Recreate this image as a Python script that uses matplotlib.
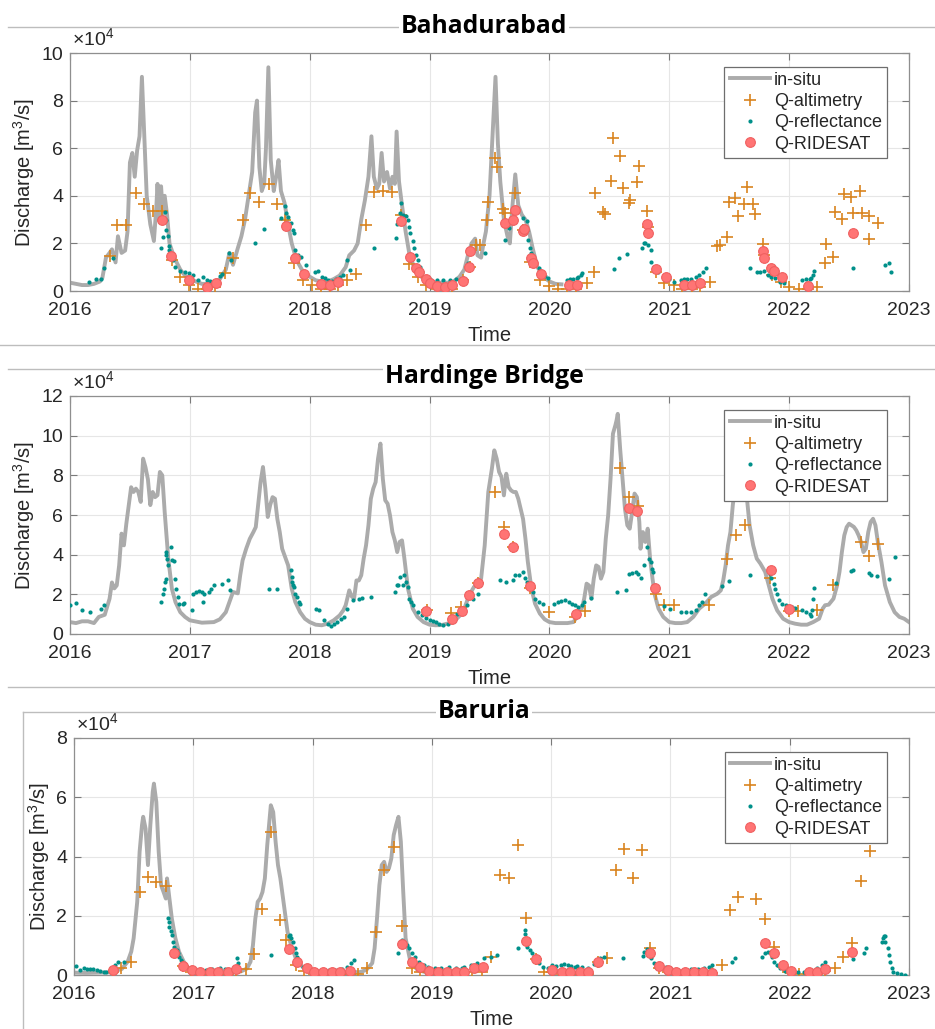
import matplotlib
matplotlib.use("Agg")
import matplotlib.pyplot as plt
from matplotlib.lines import Line2D

plt.rcParams['font.family'] = ['Liberation Sans', 'DejaVu Sans']
plt.rcParams['mathtext.fontset'] = 'custom'
plt.rcParams['mathtext.rm'] = 'Liberation Sans'
plt.rcParams['mathtext.it'] = 'Liberation Sans'

# ---------------- DATA (discharge in units of 1e4 m^3/s, time in decimal years) -------------
years = [2016, 2017, 2018, 2019, 2020, 2021, 2022, 2023]
year_labels = [str(y) for y in years]

# Bahadurabad
bah_insitu_t = [2016.00, 2016.05, 2016.10, 2016.15, 2016.20, 2016.25, 2016.27, 2016.30, 2016.33, 2016.35,
                2016.38, 2016.40, 2016.43, 2016.46, 2016.48, 2016.50, 2016.52, 2016.54, 2016.56, 2016.58,
                2016.60, 2016.62, 2016.64, 2016.67, 2016.70, 2016.72, 2016.73, 2016.745, 2016.76, 2016.775,
                2016.79, 2016.81, 2016.83, 2016.87, 2016.92, 2016.96, 2017.00, 2017.05, 2017.10, 2017.15,
                2017.20, 2017.25, 2017.30, 2017.33, 2017.36, 2017.40, 2017.43, 2017.46, 2017.49, 2017.52,
                2017.545, 2017.56, 2017.58, 2017.60, 2017.62, 2017.635, 2017.655, 2017.675, 2017.70, 2017.72,
                2017.74, 2017.76, 2017.79, 2017.82, 2017.85, 2017.89, 2017.94, 2018.00, 2018.05, 2018.10,
                2018.15, 2018.20, 2018.25, 2018.30, 2018.33, 2018.37, 2018.40, 2018.43, 2018.46, 2018.49,
                2018.515, 2018.535, 2018.56, 2018.58, 2018.60, 2018.62, 2018.645, 2018.67, 2018.69, 2018.71,
                2018.725, 2018.745, 2018.77, 2018.80, 2018.83, 2018.87, 2018.93, 2019.00, 2019.05, 2019.10,
                2019.15, 2019.20, 2019.25, 2019.29, 2019.32, 2019.35, 2019.38, 2019.40, 2019.43, 2019.45,
                2019.47, 2019.50, 2019.52, 2019.55, 2019.57, 2019.59, 2019.62, 2019.65, 2019.67, 2019.69,
                2019.715, 2019.74, 2019.77, 2019.80, 2019.83, 2019.86, 2019.90, 2019.95, 2020.00, 2020.05,
                2020.10]
bah_insitu_q = [0.35, 0.30, 0.25, 0.25, 0.30, 0.40, 0.55, 1.40, 1.60, 1.75,
                1.20, 2.30, 1.60, 1.70, 2.50, 5.40, 5.80, 4.80, 5.90, 6.50,
                9.00, 6.50, 4.00, 2.80, 2.10, 3.50, 4.50, 3.00, 4.40, 3.20,
                4.00, 3.20, 2.00, 1.40, 0.90, 0.65, 0.50, 0.40, 0.30, 0.30,
                0.35, 0.50, 0.90, 1.60, 1.10, 1.80, 2.30, 3.00, 4.00, 5.00,
                7.50, 8.00, 5.20, 4.20, 4.50, 6.00, 9.40, 5.50, 4.20, 4.80,
                5.50, 4.20, 3.70, 2.80, 2.00, 1.30, 0.85, 0.60, 0.45, 0.40,
                0.40, 0.50, 0.65, 1.00, 1.50, 1.70, 2.00, 3.00, 3.80, 4.80,
                6.50, 4.80, 4.30, 4.50, 5.80, 4.60, 5.00, 4.30, 4.80, 4.50,
                6.70, 4.60, 3.60, 2.50, 1.60, 1.00, 0.60, 0.40, 0.35, 0.35,
                0.35, 0.40, 0.60, 0.90, 1.50, 2.00, 2.20, 1.50, 1.40, 2.00,
                2.50, 4.00, 6.00, 9.00, 6.20, 4.60, 3.00, 2.30, 2.00, 3.50,
                4.90, 3.60, 3.20, 3.00, 2.50, 1.80, 1.00, 0.60, 0.40, 0.30,
                0.28]

bah_alt_t = [2016.33, 2016.39, 2016.47, 2016.55, 2016.62, 2016.69, 2016.77, 2016.85, 2016.92, 2016.99,
             2017.07, 2017.14, 2017.21, 2017.29, 2017.36, 2017.44, 2017.50, 2017.58, 2017.66, 2017.73,
             2017.79, 2017.87, 2017.94, 2018.02, 2018.09, 2018.17, 2018.24, 2018.31, 2018.39, 2018.47,
             2018.54, 2018.61, 2018.69, 2018.76, 2018.83, 2018.90, 2018.97, 2019.06, 2019.125, 2019.19,
             2019.28, 2019.335, 2019.39, 2019.42, 2019.475, 2019.49, 2019.55, 2019.56, 2019.61, 2019.63,
             2019.71, 2019.78, 2019.84, 2019.92, 2020.00, 2020.075, 2020.15, 2020.22, 2020.31, 2020.37,
             2020.38, 2020.45, 2020.46, 2020.51, 2020.53, 2020.59, 2020.61, 2020.66, 2020.675, 2020.73,
             2020.75, 2020.81, 2020.82, 2020.885, 2020.96, 2021.04, 2021.11, 2021.19, 2021.26, 2021.34,
             2021.40, 2021.42, 2021.48, 2021.50, 2021.55, 2021.57, 2021.625, 2021.645, 2021.70, 2021.715,
             2021.78, 2021.79, 2021.86, 2021.93, 2022.00, 2022.08, 2022.16, 2022.23, 2022.30, 2022.31,
             2022.37, 2022.38, 2022.44, 2022.46, 2022.52, 2022.53, 2022.59, 2022.61, 2022.67, 2022.67,
             2022.74]
bah_alt_q = [1.47, 2.77, 2.77, 4.13, 3.65, 3.36, 3.37, 1.30, 0.60, 0.25,
             0.07, 0.07, 0.18, 0.74, 1.40, 2.98, 4.10, 3.72, 4.48, 3.65,
             2.98, 1.16, 0.46, 0.25, 0.07, 0.07, 0.25, 0.46, 0.71, 2.77,
             4.17, 4.20, 4.14, 3.19, 1.12, 0.60, 0.25, 0.07, 0.07, 0.07,
             0.46, 1.02, 1.93, 1.93, 2.98, 3.75, 5.60, 5.20, 3.44, 3.26,
             4.13, 2.56, 1.23, 0.46, 0.22, 0.07, 0.07, 0.07, 0.32, 0.81,
             4.10, 3.33, 3.22, 4.62, 6.43, 5.68, 4.34, 3.68, 3.82, 4.59,
             5.24, 3.37, 2.70, 0.81, 0.32, 0.25, 0.07, 0.07, 0.18, 0.39,
             1.89, 1.93, 2.25, 3.75, 3.89, 3.15, 3.65, 4.38, 3.65, 3.22,
             1.97, 1.51, 0.67, 0.39, 0.15, 0.07, 0.07, 0.15, 1.16, 1.96,
             1.44, 3.30, 3.02, 4.07, 3.93, 3.29, 4.21, 3.29, 3.15, 2.18,
             2.87]

bah_ref_t = [2016.16, 2016.22, 2016.26, 2016.28, 2016.36,
             2016.76, 2016.775, 2016.79, 2016.80, 2016.805, 2016.82, 2016.825, 2016.83, 2016.86, 2016.88,
             2016.92, 2016.96, 2016.99, 2017.03, 2017.07, 2017.11, 2017.14, 2017.17, 2017.22, 2017.25, 2017.27,
             2017.33, 2017.345, 2017.54, 2017.62, 2017.76, 2017.79, 2017.80, 2017.82, 2017.84, 2017.86,
             2017.87, 2017.88, 2017.90, 2017.93, 2017.97, 2018.04, 2018.07, 2018.10, 2018.13, 2018.15,
             2018.19, 2018.22, 2018.25, 2018.28, 2018.31, 2018.34,
             2018.54, 2018.72, 2018.73, 2018.75, 2018.76, 2018.78, 2018.80, 2018.82, 2018.83, 2018.84,
             2018.86, 2018.87, 2018.89, 2018.90, 2018.92, 2018.94, 2018.97, 2019.00, 2019.06, 2019.11,
             2019.17, 2019.22, 2019.28, 2019.32, 2019.46,
             2019.63, 2019.66, 2019.78, 2019.81, 2019.81, 2019.82, 2019.84, 2019.85, 2019.88, 2019.91,
             2019.93, 2019.96, 2019.99,
             2020.15, 2020.17, 2020.20, 2020.23, 2020.24, 2020.26, 2020.27,
             2020.54, 2020.58, 2020.65, 2020.77, 2020.79, 2020.80, 2020.82, 2020.85, 2020.85, 2020.87,
             2020.885, 2020.91, 2020.955, 2021.00, 2021.04,
             2021.10, 2021.12, 2021.15, 2021.18, 2021.22, 2021.25, 2021.28, 2021.31,
             2021.67, 2021.73, 2021.76, 2021.79, 2021.82, 2021.85, 2021.88, 2021.92, 2021.96,
             2022.11, 2022.14, 2022.17, 2022.18, 2022.20, 2022.21,
             2022.53, 2022.80, 2022.83, 2022.85]
bah_ref_q = [0.39, 0.49, 0.49, 0.98, 1.37,
             1.79, 2.28, 3.33, 2.98, 2.56, 2.30, 1.72, 1.90, 1.30, 1.02,
             0.85, 0.81, 0.74, 0.67, 0.46, 0.60, 0.46, 0.40, 0.42, 0.63, 0.70,
             1.58, 1.30, 2.00, 2.59, 3.05, 3.57, 3.26, 3.12, 2.87, 2.56,
             2.42, 1.72, 1.51, 1.44, 1.09, 0.81, 0.85, 0.60, 0.53, 0.46,
             0.40, 0.49, 0.57, 0.66, 1.30, 0.90,
             1.79, 2.24, 2.81, 3.26, 3.70, 3.19, 3.15, 2.98, 2.70, 2.42,
             2.12, 1.79, 1.51, 1.30, 1.02, 0.81, 0.60, 0.49, 0.46, 0.46,
             0.46, 0.49, 0.53, 1.16, 1.58,
             2.14, 2.63, 3.05, 2.94, 2.56, 2.14, 1.79, 1.58, 1.23, 0.95,
             0.77, 0.63, 0.53,
             0.46, 0.49, 0.49, 0.53, 0.60, 0.67, 0.74,
             0.92, 1.37, 1.55, 1.79, 2.00, 2.03, 1.93, 1.72, 1.23, 1.02,
             0.91, 0.81, 0.60, 0.49, 0.39,
             0.46, 0.49, 0.49, 0.50, 0.60, 0.67, 0.81, 0.95,
             0.95, 0.81, 0.81, 0.85, 0.67, 0.60, 0.53, 0.39, 0.32,
             0.46, 0.49, 0.49, 0.53, 0.67, 0.85,
             0.95, 1.09, 1.16, 0.81]

bah_rid_t = [2016.77, 2016.84, 2016.99, 2017.14, 2017.22, 2017.80, 2017.875, 2017.95, 2018.09, 2018.17,
             2018.24, 2018.76, 2018.84, 2018.89, 2018.91, 2018.97, 2019.00, 2019.06, 2019.125, 2019.19,
             2019.28, 2019.33, 2019.34, 2019.63, 2019.70, 2019.71, 2019.78, 2019.79, 2019.85, 2019.86,
             2019.93, 2020.16, 2020.23, 2020.81, 2020.82, 2020.885, 2020.97, 2021.12, 2021.19, 2021.26,
             2021.78, 2021.79, 2021.85, 2021.87, 2021.94, 2022.16, 2022.53]
bah_rid_q = [2.98, 1.47, 0.46, 0.18, 0.32, 2.74, 1.37, 0.71, 0.29, 0.25,
             0.36, 2.95, 1.44, 0.95, 0.78, 0.50, 0.32, 0.22, 0.18, 0.25,
             0.42, 1.02, 1.69, 2.87, 2.98, 3.40, 2.52, 2.60, 1.37, 1.16,
             0.71, 0.25, 0.25, 2.81, 2.42, 0.91, 0.57, 0.25, 0.25, 0.35,
             1.69, 1.37, 0.98, 0.85, 0.60, 0.21, 2.45]

# Hardinge Bridge
har_insitu_t = [2016.00, 2016.05, 2016.10, 2016.15, 2016.20, 2016.24, 2016.29, 2016.33, 2016.35, 2016.37,
                2016.39, 2016.41, 2016.43, 2016.45, 2016.47, 2016.49, 2016.51, 2016.53, 2016.55, 2016.57,
                2016.59, 2016.61, 2016.63, 2016.65, 2016.67, 2016.69, 2016.71, 2016.73, 2016.75, 2016.77,
                2016.79, 2016.82, 2016.85, 2016.88, 2016.92, 2016.96, 2017.00, 2017.10, 2017.20, 2017.25,
                2017.30, 2017.33, 2017.36, 2017.40, 2017.42, 2017.44, 2017.47, 2017.50, 2017.53, 2017.55,
                2017.57, 2017.59, 2017.61, 2017.63, 2017.65, 2017.67, 2017.69, 2017.71, 2017.73, 2017.75,
                2017.77, 2017.79, 2017.82, 2017.85, 2017.88, 2017.92, 2017.96, 2018.00, 2018.05, 2018.10,
                2018.15, 2018.20, 2018.25, 2018.28, 2018.30, 2018.33, 2018.35, 2018.37, 2018.39, 2018.41,
                2018.43, 2018.45, 2018.47, 2018.49, 2018.51, 2018.53, 2018.55, 2018.57, 2018.59, 2018.61,
                2018.63, 2018.65, 2018.67, 2018.69, 2018.71, 2018.73, 2018.75, 2018.77, 2018.79, 2018.82,
                2018.86, 2018.90, 2018.95, 2019.00, 2019.05, 2019.10, 2019.20, 2019.28, 2019.30, 2019.33,
                2019.37, 2019.40, 2019.43, 2019.46, 2019.49, 2019.52, 2019.54, 2019.56, 2019.58, 2019.60,
                2019.62, 2019.64, 2019.66, 2019.68, 2019.70, 2019.72, 2019.74, 2019.76, 2019.78, 2019.80,
                2019.82, 2019.85, 2019.88, 2019.92, 2019.96, 2020.00, 2020.05, 2020.10, 2020.15, 2020.20,
                2020.23, 2020.25, 2020.27, 2020.29, 2020.31, 2020.33, 2020.35, 2020.37, 2020.39, 2020.41,
                2020.43, 2020.45, 2020.47, 2020.49, 2020.51, 2020.53, 2020.55, 2020.56, 2020.57, 2020.59,
                2020.61, 2020.63, 2020.65, 2020.67, 2020.69, 2020.71, 2020.73, 2020.75, 2020.76, 2020.78,
                2020.80, 2020.82, 2020.84, 2020.86, 2020.88, 2020.91, 2020.95, 2021.00, 2021.05, 2021.10,
                2021.15, 2021.20, 2021.25, 2021.30, 2021.35, 2021.40, 2021.43, 2021.45, 2021.47, 2021.49,
                2021.51, 2021.53, 2021.56, 2021.59, 2021.62, 2021.65, 2021.67, 2021.70, 2021.73, 2021.76,
                2021.80, 2021.83, 2021.86, 2021.90, 2021.95, 2022.00, 2022.05, 2022.10, 2022.15, 2022.20,
                2022.25, 2022.28, 2022.30, 2022.33, 2022.37, 2022.40, 2022.42, 2022.44, 2022.46, 2022.48,
                2022.50, 2022.52, 2022.54, 2022.56, 2022.58, 2022.60, 2022.62, 2022.64, 2022.66, 2022.68,
                2022.70, 2022.72, 2022.74, 2022.77, 2022.80, 2022.84, 2022.88, 2022.92, 2022.96, 2023.00]
har_insitu_q = [0.60, 0.55, 0.64, 0.64, 0.55, 0.86, 0.97, 1.78, 2.60, 2.30,
                2.45, 3.46, 5.06, 4.47, 5.56, 6.50, 7.40, 7.16, 7.33, 7.16,
                6.66, 8.84, 8.40, 7.80, 6.50, 7.16, 6.90, 7.00, 8.17, 8.00,
                6.15, 3.80, 2.28, 1.61, 1.10, 0.86, 0.69, 0.57, 0.60, 0.74,
                1.10, 1.61, 2.12, 2.05, 2.96, 3.71, 4.30, 4.80, 5.14, 5.39,
                6.50, 7.66, 8.42, 7.33, 5.90, 6.50, 6.90, 6.82, 5.80, 5.14,
                4.30, 3.97, 3.46, 2.28, 1.61, 1.10, 0.77, 0.60, 0.47, 0.44,
                0.52, 0.69, 0.94, 1.19, 1.45, 2.20, 1.90, 1.78, 2.70, 2.70,
                2.96, 3.80, 4.47, 5.48, 6.82, 7.33, 7.66, 8.84, 9.60, 7.83,
                6.74, 6.57, 5.98, 5.14, 4.72, 4.13, 4.64, 4.72, 3.80, 2.28,
                1.28, 0.86, 0.60, 0.47, 0.44, 0.45, 0.60, 1.10, 1.45, 1.95,
                2.37, 2.54, 2.79, 4.47, 7.16, 8.34, 9.26, 8.84, 8.17, 7.92,
                6.99, 8.08, 7.41, 7.24, 7.16, 7.16, 6.82, 6.32, 5.80, 4.80,
                3.63, 2.28, 1.53, 1.03, 0.74, 0.60, 0.55, 0.55, 0.55, 0.60,
                0.86, 1.28, 1.28, 1.78, 2.54, 2.45, 1.78, 2.79, 3.46, 3.38,
                2.79, 3.13, 4.80, 5.98, 7.83, 10.10, 10.52, 10.77, 11.10, 9.34,
                7.83, 6.32, 5.48, 5.31, 6.15, 7.08, 6.90, 5.65, 4.30, 5.14,
                4.64, 5.31, 3.80, 2.79, 1.95, 1.28, 0.86, 0.60, 0.55, 0.55,
                0.60, 0.86, 1.28, 1.53, 1.87, 2.03, 2.20, 2.70, 3.46, 4.47,
                5.14, 6.50, 8.00, 8.60, 8.20, 6.70, 5.48, 4.47, 3.80, 3.55,
                3.13, 2.45, 1.78, 1.19, 0.77, 0.60, 0.52, 0.47, 0.47, 0.60,
                0.77, 1.28, 1.45, 1.48, 1.78, 2.45, 3.13, 4.13, 4.97, 5.39,
                5.56, 5.48, 5.40, 5.23, 4.97, 4.64, 4.13, 4.30, 5.14, 5.65,
                5.81, 5.48, 4.64, 3.63, 2.45, 1.61, 1.10, 0.86, 0.77, 0.60]

har_alt_t = [2018.98, 2019.18, 2019.26, 2019.40, 2019.55, 2019.62, 2019.70, 2019.84, 2020.00, 2020.215,
             2020.30, 2020.59, 2020.66, 2020.74, 2020.885, 2020.955, 2021.04, 2021.33, 2021.48, 2021.56,
             2021.63, 2021.84, 2022.00, 2022.07, 2022.23, 2022.37, 2022.60, 2022.67, 2022.74]
har_alt_q = [1.20, 1.08, 1.36, 2.59, 7.16, 5.39, 4.39, 2.30, 1.11, 0.86,
             1.16, 8.39, 6.91, 6.44, 2.03, 1.48, 1.45, 1.48, 3.80, 4.97,
             5.48, 2.84, 1.16, 1.16, 1.23, 2.49, 4.64, 3.92, 4.52]

har_ref_t = [2016.00, 2016.05, 2016.10, 2016.17, 2016.26, 2016.28,
             2016.76, 2016.78, 2016.785, 2016.79, 2016.80, 2016.80, 2016.805, 2016.81, 2016.82, 2016.84,
             2016.85, 2016.87, 2016.88, 2016.885, 2016.90, 2016.91, 2016.94, 2016.95,
             2017.02, 2017.025, 2017.05, 2017.08, 2017.105, 2017.11, 2017.12, 2017.16, 2017.18, 2017.20,
             2017.27, 2017.32, 2017.335,
             2017.66, 2017.73,
             2017.845, 2017.85, 2017.855, 2017.86, 2017.865, 2017.88, 2017.89, 2017.91, 2017.92,
             2018.05, 2018.08, 2018.12, 2018.15, 2018.18, 2018.20, 2018.23, 2018.26, 2018.29, 2018.31,
             2018.36, 2018.41, 2018.44, 2018.51,
             2018.71, 2018.73, 2018.74, 2018.755, 2018.78, 2018.79, 2018.80, 2018.82, 2018.83, 2018.845,
             2018.86, 2018.90, 2018.94, 2018.97, 2019.00, 2019.03, 2019.05, 2019.08, 2019.11, 2019.15,
             2019.19, 2019.23, 2019.27, 2019.31, 2019.36, 2019.40,
             2019.59, 2019.64, 2019.70, 2019.71, 2019.75, 2019.78, 2019.795, 2019.81, 2019.84, 2019.865,
             2019.88, 2019.91, 2019.95,
             2020.04, 2020.07, 2020.10, 2020.13, 2020.16, 2020.19, 2020.21, 2020.24, 2020.27, 2020.285,
             2020.35,
             2020.56, 2020.64, 2020.66, 2020.69, 2020.72, 2020.74, 2020.76, 2020.79, 2020.815, 2020.83,
             2020.85, 2020.855, 2020.865,
             2020.955, 2021.01, 2021.10, 2021.14, 2021.18, 2021.22, 2021.25, 2021.27, 2021.30, 2021.44,
             2021.50, 2021.67,
             2021.84, 2021.85, 2021.87, 2021.885, 2021.90, 2021.915, 2021.94, 2021.97, 2022.02, 2022.05,
             2022.11, 2022.14, 2022.17, 2022.18, 2022.19, 2022.20, 2022.205,
             2022.39, 2022.52, 2022.535, 2022.67, 2022.685, 2022.73, 2022.83, 2022.88]
har_ref_q = [1.48, 1.56, 1.23, 1.11, 1.28, 1.45,
             1.61, 2.03, 2.28, 2.62, 2.79, 4.13, 4.00, 3.80, 3.46, 4.39,
             3.71, 3.66, 2.79, 2.28, 1.87, 1.53, 1.50, 1.56,
             1.23, 2.03, 2.12, 2.17, 2.12, 1.61, 2.00, 2.12, 2.28, 2.45,
             2.54, 2.74, 2.20,
             2.28, 2.28,
             3.21, 2.87, 2.62, 2.45, 2.37, 2.03, 1.87, 1.61, 1.53,
             1.28, 1.19, 0.69, 0.50, 0.40, 0.50, 0.62, 0.77, 0.86, 1.28,
             1.70, 1.78, 1.83, 1.87,
             2.12, 2.45, 2.48, 2.87, 2.45, 2.96, 2.62, 2.37, 1.78, 1.61,
             1.45, 1.11, 0.94, 0.80, 0.72, 0.65, 0.60, 0.50, 0.44, 0.52,
             0.77, 1.00, 1.28, 1.45, 1.78, 2.03,
             2.70, 2.62, 2.70, 3.00, 2.96, 3.13, 2.80, 2.62, 2.45, 2.12,
             1.78, 1.61, 1.53,
             1.53, 1.61, 1.65, 1.70, 1.61, 1.53, 1.45, 1.36, 1.45, 1.61,
             1.83,
             2.12, 2.24, 3.04, 3.06, 3.13, 3.04, 2.82, 3.50, 4.39, 3.80,
             3.63, 3.29, 3.13,
             1.41, 1.28, 1.11, 1.11, 1.11, 1.23, 1.45, 1.61, 2.03, 2.42,
             2.66, 2.96,
             3.04, 2.80, 2.54, 2.28, 2.03, 1.70, 1.53, 1.45, 1.36, 1.30,
             1.19, 1.12, 1.03, 0.91, 1.20, 1.78, 2.32,
             2.59, 3.16, 3.25, 3.08, 2.98, 2.91, 2.79, 3.88]

har_rid_t = [2018.97, 2019.19, 2019.27, 2019.33, 2019.40, 2019.62, 2019.70, 2019.84, 2020.22, 2020.66,
             2020.73, 2020.88, 2021.85, 2022.00]
har_rid_q = [1.16, 0.77, 1.16, 1.95, 2.59, 5.06, 4.39, 2.42, 1.03, 6.35,
             6.18, 2.34, 3.21, 1.28]

# Baruria
bar_insitu_t = [2016.00, 2016.10, 2016.20, 2016.30, 2016.40, 2016.45, 2016.48, 2016.50, 2016.53, 2016.55,
                2016.57, 2016.58, 2016.60, 2016.62, 2016.64, 2016.66, 2016.67, 2016.69, 2016.71, 2016.73,
                2016.75, 2016.77, 2016.78, 2016.80, 2016.82, 2016.85, 2016.88, 2016.92, 2016.96, 2017.00,
                2017.10, 2017.20, 2017.30, 2017.40, 2017.45, 2017.48, 2017.50, 2017.52, 2017.54, 2017.56,
                2017.58, 2017.60, 2017.62, 2017.64, 2017.65, 2017.67, 2017.69, 2017.71, 2017.73, 2017.76,
                2017.79, 2017.82, 2017.86, 2017.90, 2017.95, 2018.00, 2018.10, 2018.20, 2018.30, 2018.40,
                2018.45, 2018.50, 2018.52, 2018.54, 2018.56, 2018.58, 2018.60, 2018.62, 2018.64, 2018.66,
                2018.68, 2018.70, 2018.72, 2018.74, 2018.76, 2018.78, 2018.82, 2018.88, 2018.95, 2019.00]
bar_insitu_q = [0.08, 0.07, 0.08, 0.09, 0.20, 0.45, 0.79, 1.24, 2.47, 4.16,
                5.06, 5.34, 4.94, 3.71, 5.06, 6.18, 6.46, 5.84, 4.16, 3.03,
                2.81, 2.58, 3.26, 2.58, 1.91, 1.24, 0.79, 0.45, 0.22, 0.11,
                0.08, 0.08, 0.09, 0.12, 0.22, 0.45, 1.00, 1.90, 2.47, 2.58,
                2.80, 3.26, 4.38, 5.28, 5.73, 5.50, 4.50, 3.71, 3.26, 2.36,
                1.46, 1.00, 0.56, 0.34, 0.17, 0.09, 0.08, 0.08, 0.09, 0.10,
                0.17, 0.40, 0.90, 1.91, 3.03, 3.71, 3.82, 3.48, 3.60, 3.93,
                4.72, 5.06, 5.34, 4.50, 2.81, 1.24, 0.45, 0.17, 0.09, 0.08]

bar_alt_t = [2016.33, 2016.39, 2016.48, 2016.55, 2016.62, 2016.69, 2016.77, 2016.91, 2016.98, 2017.06,
             2017.14, 2017.21, 2017.29, 2017.36, 2017.44, 2017.51, 2017.58, 2017.65, 2017.73, 2017.78,
             2017.86, 2017.93, 2018.01, 2018.09, 2018.16, 2018.23, 2018.31, 2018.385, 2018.46, 2018.53,
             2018.60, 2018.68, 2018.75, 2018.83, 2018.90, 2018.98, 2019.05, 2019.13, 2019.20, 2019.27,
             2019.34, 2019.42, 2019.50, 2019.57, 2019.65, 2019.72, 2019.79, 2019.87, 2019.94, 2020.01,
             2020.09, 2020.16, 2020.24, 2020.31, 2020.39, 2020.47, 2020.54, 2020.61, 2020.69, 2020.76,
             2020.83, 2020.90, 2020.98, 2021.05, 2021.12, 2021.20, 2021.27, 2021.35, 2021.43, 2021.50,
             2021.57, 2021.72, 2021.79, 2021.87, 2021.94, 2022.01, 2022.08, 2022.16, 2022.23, 2022.30,
             2022.38, 2022.45, 2022.52, 2022.60, 2022.67]
bar_alt_q = [0.09, 0.25, 0.43, 2.79, 3.31, 3.15, 3.00, 0.30, 0.11, 0.02,
             0.02, 0.02, 0.02, 0.11, 0.20, 0.70, 2.22, 4.83, 1.85, 1.18,
             0.34, 0.13, 0.02, 0.02, 0.02, 0.02, 0.02, 0.02, 0.25, 1.46,
             3.56, 4.33, 1.66, 0.22, 0.09, 0.09, 0.02, 0.02, 0.02, 0.09,
             0.09, 0.11, 0.62, 3.39, 3.28, 4.38, 1.94, 0.54, 0.11, 0.09,
             0.02, 0.02, 0.02, 0.02, 0.45, 0.56, 3.56, 4.27, 3.26, 4.21,
             0.90, 0.22, 0.11, 0.02, 0.02, 0.02, 0.02, 0.06, 0.34, 2.19,
             2.64, 2.55, 1.88, 0.96, 0.28, 0.06, 0.02, 0.02, 0.02, 0.13,
             0.22, 0.62, 1.09, 3.17, 4.19]

bar_ref_t = [2016.02, 2016.05, 2016.08, 2016.11, 2016.13, 2016.16, 2016.19, 2016.22, 2016.25, 2016.27,
             2016.30, 2016.34, 2016.37, 2016.42,
             2016.79, 2016.80, 2016.80, 2016.81, 2016.82, 2016.83, 2016.84, 2016.86, 2016.87, 2016.88,
             2016.90, 2016.92, 2016.94, 2016.97, 2017.00, 2017.05, 2017.11, 2017.16, 2017.22, 2017.27,
             2017.33, 2017.37, 2017.375,
             2017.65,
             2017.80, 2017.81, 2017.82, 2017.84, 2017.85, 2017.86, 2017.87, 2017.89, 2017.92, 2017.96,
             2018.03, 2018.08, 2018.14, 2018.19, 2018.25, 2018.29, 2018.32, 2018.35,
             2018.72, 2018.74, 2018.75, 2018.77, 2018.79, 2018.81, 2018.83, 2018.86, 2018.89, 2018.93,
             2018.97, 2019.03, 2019.08, 2019.14, 2019.20, 2019.25, 2019.27, 2019.33, 2019.38, 2019.44,
             2019.50, 2019.55,
             2019.72, 2019.78, 2019.785, 2019.79, 2019.80, 2019.82, 2019.84, 2019.87, 2019.90, 2019.93,
             2019.97, 2020.01, 2020.04, 2020.08, 2020.11, 2020.14, 2020.17, 2020.20, 2020.22, 2020.26,
             2020.31, 2020.36, 2020.41, 2020.44,
             2020.60,
             2020.77, 2020.78, 2020.80, 2020.82, 2020.84, 2020.86, 2020.88, 2020.92, 2020.96, 2021.00,
             2021.06, 2021.11, 2021.17, 2021.23, 2021.28, 2021.32, 2021.35,
             2021.52, 2021.54,
             2021.77, 2021.79, 2021.82, 2021.84, 2021.85, 2021.87, 2021.89, 2021.92, 2021.96, 2022.01,
             2022.07, 2022.12, 2022.18, 2022.23, 2022.27, 2022.30,
             2022.53, 2022.62, 2022.64,
             2022.77, 2022.78, 2022.79, 2022.80, 2022.80, 2022.82, 2022.83, 2022.84, 2022.86, 2022.87,
             2022.90, 2022.93, 2022.97]
bar_ref_q = [0.30, 0.17, 0.22, 0.20, 0.20, 0.19, 0.17, 0.13, 0.09, 0.11,
             0.17, 0.34, 0.45, 0.45,
             1.91, 1.80, 1.63, 1.50, 1.35, 1.12, 0.95, 0.84, 0.73, 0.62,
             0.51, 0.34, 0.28, 0.22, 0.17, 0.17, 0.17, 0.20, 0.22, 0.20,
             0.20, 0.56, 0.40,
             0.67,
             1.30, 1.35, 1.24, 1.12, 0.90, 0.73, 0.62, 0.45, 0.28, 0.20,
             0.17, 0.13, 0.17, 0.17, 0.20, 0.28, 0.40, 0.50,
             0.73, 1.12, 1.18, 1.12, 1.01, 0.90, 0.73, 0.62, 0.45, 0.34,
             0.28, 0.25, 0.25, 0.28, 0.25, 0.22, 0.28, 0.34, 0.42, 0.56,
             0.62, 0.67,
             0.90, 1.52, 1.40, 1.07, 0.96, 0.84, 0.73, 0.56, 0.39, 0.28,
             0.22, 0.34, 0.31, 0.34, 0.37, 0.34, 0.31, 0.28, 0.31, 0.28,
             0.25, 0.36, 0.56, 0.62,
             0.58,
             0.65, 0.79, 0.87, 0.73, 0.56, 0.39, 0.28, 0.22, 0.28, 0.22,
             0.17, 0.17, 0.19, 0.20, 0.22, 0.28, 0.34,
             0.45, 0.56,
             0.62, 0.73, 0.79, 0.73, 0.62, 0.45, 0.34, 0.22, 0.13, 0.09,
             0.09, 0.11, 0.17, 0.25, 0.34, 0.43,
             0.54, 0.73, 0.90,
             1.12, 1.24, 1.33, 1.30, 1.12, 0.90, 0.67, 0.45, 0.22, 0.09,
             0.06, 0.03, 0.00]

bar_rid_t = [2016.33, 2016.84, 2016.91, 2016.99, 2017.06, 2017.14, 2017.21, 2017.29, 2017.36, 2017.80,
             2017.87, 2017.95, 2018.01, 2018.09, 2018.16, 2018.23, 2018.31, 2018.75, 2018.83, 2018.90,
             2018.98, 2019.05, 2019.13, 2019.20, 2019.27, 2019.35, 2019.43, 2019.79, 2019.87, 2020.01,
             2020.09, 2020.16, 2020.24, 2020.31, 2020.39, 2020.83, 2020.90, 2020.98, 2021.05, 2021.12,
             2021.20, 2021.27, 2021.35, 2021.79, 2021.87, 2021.94, 2022.01, 2022.16, 2022.23, 2022.30,
             2022.52]
bar_rid_q = [0.17, 0.73, 0.30, 0.17, 0.11, 0.09, 0.11, 0.11, 0.20, 0.87,
             0.43, 0.25, 0.11, 0.09, 0.09, 0.11, 0.13, 1.03, 0.45, 0.26,
             0.15, 0.09, 0.09, 0.09, 0.09, 0.22, 0.28, 1.15, 0.54, 0.17,
             0.11, 0.09, 0.11, 0.11, 0.45, 0.73, 0.30, 0.17, 0.09, 0.09,
             0.09, 0.09, 0.06, 1.07, 0.73, 0.34, 0.15, 0.11, 0.09, 0.20,
             0.79]

stations = ["Bahadurabad", "Hardinge Bridge", "Baruria"]
y_max = [10, 12, 8]

# ---------------- STYLE ----------------
C_INSITU = '#ababab'
C_ALT = '#d9841f'
C_REF = '#00908a'
C_RID_FACE = '#ff7474'
C_RID_EDGE = '#f06060'
TXT = '#262626'

fig = plt.figure(figsize=(9.35, 10.29), dpi=100)
W, H = 935.0, 1029.0

def fx(px):
    return px / W

def fy(py):
    return 1 - py / H

axes_px = [(70, 53, 909, 291), (70, 396, 909, 634), (74, 738, 909, 975)]
title_px = [(484, 33), (484, 383), (484, 718)]

data = [
    (bah_insitu_t, bah_insitu_q, bah_alt_t, bah_alt_q, bah_ref_t, bah_ref_q, bah_rid_t, bah_rid_q),
    (har_insitu_t, har_insitu_q, har_alt_t, har_alt_q, har_ref_t, har_ref_q, har_rid_t, har_rid_q),
    (bar_insitu_t, bar_insitu_q, bar_alt_t, bar_alt_q, bar_ref_t, bar_ref_q, bar_rid_t, bar_rid_q),
]

# separators / frames
sep = dict(color='#bdbdbd', lw=1.0, transform=fig.transFigure)
fig.add_artist(Line2D([fx(8), 1], [fy(27), fy(27)], **sep))
fig.add_artist(Line2D([0, 1], [fy(345), fy(345)], **sep))
fig.add_artist(Line2D([fx(8), 1], [fy(369), fy(369)], **sep))
fig.add_artist(Line2D([fx(8), 1], [fy(687), fy(687)], **sep))
fig.add_artist(Line2D([fx(23), 1], [fy(712), fy(712)], **sep))
fig.add_artist(Line2D([fx(23), fx(23)], [0, fy(712)], **sep))

for i, (l, t, r, b) in enumerate(axes_px):
    ax = fig.add_axes([fx(l), fy(b), fx(r) - fx(l), fy(t) - fy(b)])
    it, iq, at, aq, rt, rq, dt, dq = data[i]
    ax.plot(it, iq, color=C_INSITU, lw=2.8, label='in-situ', zorder=2, solid_joinstyle='round')
    ax.plot(at, aq, ls='none', marker='+', ms=8.5, mew=1.2, color=C_ALT, label='Q-altimetry', zorder=3)
    ax.plot(rt, rq, ls='none', marker='o', ms=3.0, mew=0, color=C_REF, label='Q-reflectance', zorder=4)
    ax.plot(dt, dq, ls='none', marker='o', ms=7, mew=0.8, mfc=C_RID_FACE, mec=C_RID_EDGE,
            label='Q-RIDESAT', zorder=5)

    ax.set_xlim(years[0], years[-1])
    ax.set_ylim(0, y_max[i])
    ax.set_xticks(years)
    ax.set_xticklabels(year_labels)
    ax.set_yticks(list(range(0, y_max[i] + 1, 2)))
    ax.tick_params(direction='in', top=True, right=True, length=5, width=0.8, color='#7a7a7a',
                   labelsize=14, labelcolor=TXT)
    ax.tick_params(axis='x', pad=8)
    ax.tick_params(axis='y', pad=5)
    ax.grid(True, color='#e6e6e6', lw=0.8, zorder=0)
    ax.set_axisbelow(True)
    for s in ax.spines.values():
        s.set_color('#8f8f8f')
        s.set_linewidth(0.9)
    ax.set_xlabel('Time', fontsize=14.5, color=TXT, labelpad=5)
    ax.set_ylabel('Discharge [m$^3$/s]', fontsize=14.5, color=TXT, labelpad=3)
    ax.text(0.002, 1.018, r'$\times$10$^4$', transform=ax.transAxes, fontsize=14, color=TXT,
            ha='left', va='bottom')

    leg = ax.legend(loc='upper right', bbox_to_anchor=(0.974, 0.943), fontsize=13,
                    frameon=True, fancybox=False, framealpha=1, edgecolor='#6e6e6e',
                    handlelength=2.25, handletextpad=0.22, labelspacing=0.24, borderpad=0.28,
                    borderaxespad=0.0)
    leg.get_frame().set_linewidth(0.9)
    for txt in leg.get_texts():
        txt.set_color(TXT)

    tx, ty = title_px[i]
    fig.text(fx(tx), fy(ty), stations[i], ha='center', va='baseline', fontsize=17.8,
             fontweight='bold', family='Open Sans', color='black',
             bbox=dict(facecolor='white', edgecolor='none', pad=1.0), zorder=10)

fig.savefig('out.png', dpi=100, facecolor='white')
